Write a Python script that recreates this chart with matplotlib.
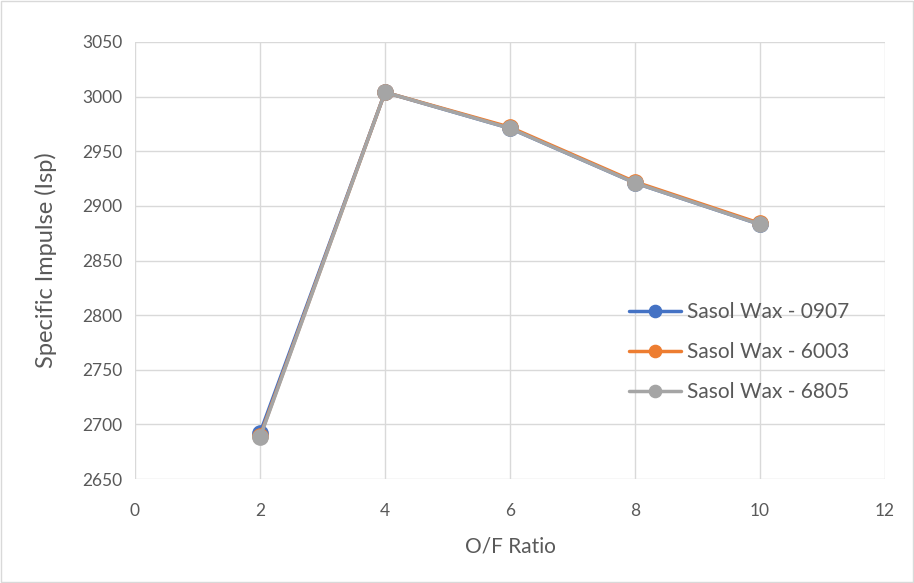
import matplotlib
matplotlib.use("Agg")
import matplotlib.pyplot as plt
from matplotlib.patches import Rectangle

plt.rcParams['font.family'] = ['Lato', 'DejaVu Sans']

of_ratio = [2, 4, 6, 8, 10]
wax_0907 = [2692, 3004, 2971, 2921, 2883]
wax_6003 = [2689, 3004, 2972, 2922, 2884]
wax_6805 = [2688, 3004, 2971, 2921, 2883]
series_names = ["Sasol Wax - 0907", "Sasol Wax - 6003", "Sasol Wax - 6805"]
series_colors = ["#4472C4", "#ED7D31", "#A5A5A5"]
x_ticks = [0, 2, 4, 6, 8, 10, 12]
y_ticks = [2650, 2700, 2750, 2800, 2850, 2900, 2950, 3000, 3050]

fig = plt.figure(figsize=(9.14, 5.83), dpi=100)
fig.patches.append(Rectangle((0.001, 0.001), 0.998, 0.997, transform=fig.transFigure,
                             fill=False, edgecolor="#D9D9D9", linewidth=1.0))
ax = fig.add_axes([135/914, 1-479/583, 750/914, 437/583])

for vals, name, col in zip([wax_0907, wax_6003, wax_6805], series_names, series_colors):
    ax.plot(of_ratio, vals, color=col, linewidth=2.5, marker='o', markersize=11,
            label=name, solid_capstyle='round')

ax.set_xlim(0, 12)
ax.set_ylim(2650, 3050)
ax.set_xticks(x_ticks)
ax.set_yticks(y_ticks)
ax.grid(True, color="#D9D9D9", linewidth=1.0)
ax.set_axisbelow(True)
for s in ax.spines.values():
    s.set_visible(False)
ax.tick_params(length=0, labelsize=12.5, labelcolor="#595959")
ax.tick_params(axis='x', pad=17)
ax.tick_params(axis='y', pad=9)
ax.set_xlabel("O/F Ratio", fontsize=15, color="#595959", labelpad=13)
ax.set_ylabel("Specific Impulse (Isp)", fontsize=17, color="#595959", labelpad=18)

leg = ax.legend(loc='center left', bbox_to_anchor=(0.634, 0.29), frameon=False,
                fontsize=15, labelcolor="#595959", handlelength=2.5, handletextpad=0.25,
                labelspacing=0.97, markerscale=0.8)

fig.savefig("out.png", dpi=100)
